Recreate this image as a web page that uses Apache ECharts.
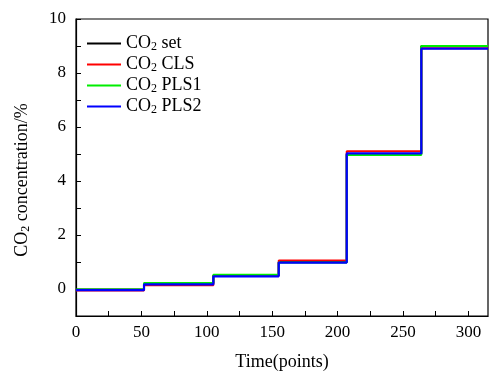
<!DOCTYPE html>
<html>
<head>
<meta charset="utf-8">
<script src="https://cdn.jsdelivr.net/npm/echarts@6/dist/echarts.min.js"></script>
<style>html,body{margin:0;padding:0;background:#fff}#c{width:491px;height:376px}</style>
</head>
<body>
<div id="c"></div>
<script>
// step boundaries (Time, points)
var stepX = [0, 52, 105, 155, 207, 264, 315];
// level of each step for each series (CO2 %)
var setLevels  = [-0.02, 0.20, 0.50, 1.00, 5.00, 9.00];
var clsLevels  = [-0.06, 0.14, 0.50, 1.06, 5.10, 8.92];
var pls1Levels = [-0.02, 0.22, 0.53, 0.98, 4.96, 9.00];
var pls2Levels = [-0.04, 0.17, 0.47, 0.98, 5.02, 8.90];
var seriesNames = ['CO2 set', 'CO2 CLS', 'CO2 PLS1', 'CO2 PLS2'];
var seriesColors = ['#000000', '#ff0000', '#00ee00', '#0000ff'];
var xTicks = [0, 50, 100, 150, 200, 250, 300];
var yTicks = [0, 2, 4, 6, 8, 10];

function buildSteps(levels) {
  var pts = [];
  for (var i = 0; i < levels.length; i++) {
    pts.push([stepX[i], levels[i]]);
    pts.push([stepX[i + 1], levels[i]]);
  }
  return pts;
}
var allLevels = [setLevels, clsLevels, pls1Levels, pls2Levels];
var FONT = '"Liberation Serif", "Times New Roman", serif';

var chart = echarts.init(document.getElementById('c'));
chart.setOption({
  animation: false,
  backgroundColor: '#fff',
  grid: { left: 76, right: 3, top: 19, bottom: 54, show: true, borderColor: '#000', borderWidth: 1.2 },
  legend: {
    orient: 'vertical', left: 82, top: 29, itemWidth: 34, itemHeight: 2, itemGap: 2,
    icon: 'rect',
    data: seriesNames,
    formatter: function (n) { return '{a|CO}{s|2}{a|' + n.slice(3) + '}'; },
    textStyle: {
      color: '#000', fontFamily: FONT, fontSize: 18,
      rich: {
        a: { fontFamily: FONT, fontSize: 18, color: '#000', lineHeight: 19 },
        s: { fontFamily: FONT, fontSize: 12, color: '#000', lineHeight: 19, padding: [7, 0, 0, 0] }
      }
    }
  },
  xAxis: {
    type: 'value', min: 0, max: 315, interval: 25,
    name: 'Time(points)', nameLocation: 'middle', nameGap: 37,
    nameTextStyle: { fontFamily: FONT, fontSize: 18, color: '#000' },
    axisLine: { onZero: false, lineStyle: { color: '#000', width: 1.2 } },
    axisTick: { inside: true, length: 5, lineStyle: { color: '#000' } },
    axisLabel: {
      fontFamily: FONT, fontSize: 17, color: '#000', margin: 8, showMaxLabel: false,
      formatter: function (v) { return xTicks.indexOf(v) >= 0 ? String(v) : ''; }
    },
    splitLine: { show: false }
  },
  yAxis: {
    type: 'value', min: -1, max: 10, interval: 1,
    name: '{a|CO}{s|2}{a| concentration/%}', nameLocation: 'middle', nameGap: 44,
    nameTextStyle: {
      fontFamily: FONT, fontSize: 18, color: '#000', padding: [0, 0, 0, -25],
      rich: {
        a: { fontFamily: FONT, fontSize: 18, color: '#000' },
        s: { fontFamily: FONT, fontSize: 12, color: '#000', padding: [7, 0, 0, 0] }
      }
    },
    axisLine: { show: true, onZero: false, lineStyle: { color: '#000', width: 1.2 } },
    axisTick: { show: true, inside: true, length: 5, lineStyle: { color: '#000' } },
    axisLabel: {
      fontFamily: FONT, fontSize: 17, color: '#000', margin: 10,
      formatter: function (v) { return yTicks.indexOf(v) >= 0 ? String(v) : ''; }
    },
    splitLine: { show: false }
  },
  series: seriesNames.map(function (n, i) {
    return {
      name: n, type: 'line', data: buildSteps(allLevels[i]),
      showSymbol: false, symbol: 'none',
      color: seriesColors[i],
      lineStyle: { color: seriesColors[i], width: i === 3 ? 2.2 : 2 },
      z: 2 + i
    };
  })
});
</script>
</body>
</html>
